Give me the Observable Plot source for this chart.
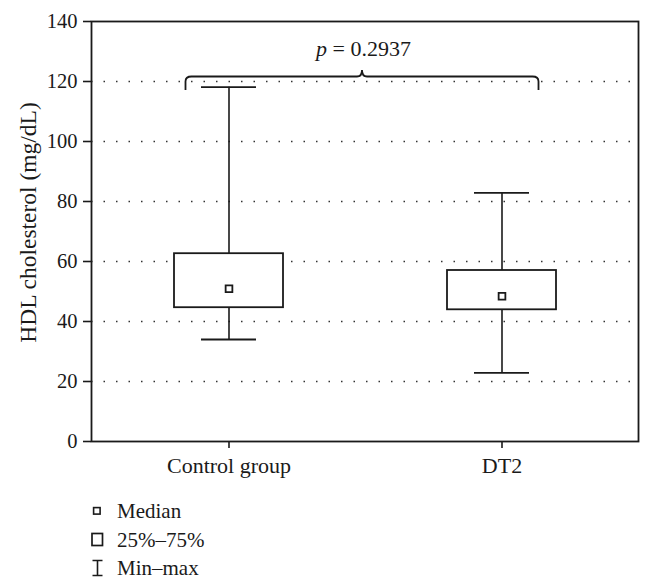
<!DOCTYPE html>
<html><head><meta charset="utf-8">
<script src="https://cdn.jsdelivr.net/npm/d3@7"></script>
<script src="https://cdn.jsdelivr.net/npm/@observablehq/plot@0.6"></script>
<style>
body{margin:0;background:#fff;font-family:"Liberation Serif",serif;color:#1a1a1a}
#chart svg{display:block}
#legend{position:relative;width:650px;height:98px}
.row{position:absolute;left:0;height:28px;width:300px;display:flex;align-items:center;font-size:21px}
.row svg{position:absolute;left:88px}
.row span{position:absolute;left:117px;line-height:28px}
</style></head><body>
<div id="chart"></div>
<div id="legend"></div>
<script>
const groups = ["Control group", "DT2"];
const mins = [34.0, 22.9];
const q1s = [44.6, 43.9];
const medians = [50.9, 48.4];
const q3s = [62.6, 57.0];
const maxs = [118.1, 82.9];
const yTicks = [0, 20, 40, 60, 80, 100, 120, 140];
const gridTicks = [20, 40, 60, 80, 100, 120];
const yLabel = "HDL cholesterol (mg/dL)";
const pSymbol = "p";
const pValueText = "\u00a0= 0.2937";
const pTextY = 131;
const braceEnd = 117, braceLine = 121.5, braceTip = 123.7;
const legendLabels = ["Median", "25%\u201375%", "Min\u2013max"];

const rows = groups.map((g, i) => ({group: g, min: mins[i], q1: q1s[i], median: medians[i], q3: q3s[i], max: maxs[i]}));
const ink = "#1a1a1a";

function brace(index, scales) {
  const {x, y} = scales;
  const bw = x.bandwidth();
  const xL = x(groups[0]) + bw / 2 - 43;
  const xR = x(groups[1]) + bw / 2 + 37;
  const xm = (xL + xR) / 2;
  const yE = y(braceEnd), yT = y(braceLine), yP = y(braceTip);
  const p = d3.path();
  p.moveTo(xL, yE); p.lineTo(xL, yT + 5);
  p.quadraticCurveTo(xL, yT, xL + 6, yT);
  p.lineTo(xm - 5, yT);
  p.quadraticCurveTo(xm, yT, xm, yP);
  p.quadraticCurveTo(xm, yT, xm + 5, yT);
  p.lineTo(xR - 6, yT);
  p.quadraticCurveTo(xR, yT, xR, yT + 5);
  p.lineTo(xR, yE);
  const el = document.createElementNS("http://www.w3.org/2000/svg", "path");
  el.setAttribute("d", p.toString());
  el.setAttribute("fill", "none");
  el.setAttribute("stroke", ink);
  el.setAttribute("stroke-width", 1.8);
  return el;
}

const chart = Plot.plot({
  width: 650,
  height: 490,
  marginLeft: 91,
  marginRight: 12,
  marginTop: 21,
  marginBottom: 49,
  style: {fontFamily: "Liberation Serif, serif", fontSize: "20px", color: ink, background: "#fff"},
  x: {type: "band", domain: groups, padding: 0, axis: null},
  y: {domain: [0, 140], axis: null},
  marks: [
    Plot.gridY(gridTicks, {stroke: "#333", strokeOpacity: 1, strokeWidth: 1.5, strokeDasharray: "1.5 11"}),
    Plot.axisY(yTicks, {tickSize: 8, tickPadding: 6, fontSize: 20.5, label: null, stroke: ink, strokeWidth: 1.6}),
    Plot.axisX(groups, {tickSize: 7, tickPadding: 9, fontSize: 22, label: null, stroke: ink, strokeWidth: 1.6}),
    Plot.ruleX(rows, {x: "group", y1: "min", y2: "max", stroke: ink, strokeWidth: 1.6}),
    Plot.tickY(rows, {x: "group", y: "min", insetLeft: 109, insetRight: 109, stroke: ink, strokeWidth: 1.8}),
    Plot.tickY(rows, {x: "group", y: "max", insetLeft: 109, insetRight: 109, stroke: ink, strokeWidth: 1.8}),
    Plot.barY(rows, {x: "group", y1: "q1", y2: "q3", insetLeft: 82, insetRight: 82, fill: "#fff", stroke: ink, strokeWidth: 1.8}),
    Plot.dot(rows, {x: "group", y: "median", symbol: "square", r: 3.8, fill: "#fff", stroke: ink, strokeWidth: 1.8}),
    Plot.frame({stroke: ink, strokeWidth: 1.8}),
    brace,
    Plot.text([pSymbol], {y: () => pTextY, text: d => d, dx: -38, textAnchor: "end", fontStyle: "italic", fontSize: 22, fill: ink}),
    Plot.text([pValueText], {y: () => pTextY, text: d => d, dx: -38, textAnchor: "start", fontSize: 22, fill: ink}),
    Plot.text([yLabel], {frameAnchor: "left", text: d => d, rotate: -90, textAnchor: "middle", lineAnchor: "middle", dx: -63, dy: -9, fontSize: 23.5, fill: ink})
  ]
});
document.getElementById("chart").appendChild(chart);

const legendSymbols = [
  '<svg width="18" height="20" viewBox="0 0 18 20"><rect x="5.6" y="6.6" width="6.5" height="6.5" fill="#fff" stroke="#1a1a1a" stroke-width="1.6"/></svg>',
  '<svg width="18" height="20" viewBox="0 0 18 20"><rect x="4" y="3.5" width="10.5" height="12" fill="#fff" stroke="#1a1a1a" stroke-width="1.7"/></svg>',
  '<svg width="18" height="20" viewBox="0 0 18 20"><path d="M4.5 2.5H14.5M9.5 2.5V17.5M4.5 17.5H14.5" fill="none" stroke="#1a1a1a" stroke-width="1.6"/></svg>'
];
const rowTops = [7, 36, 64];
const legend = document.getElementById("legend");
legendLabels.forEach((lab, i) => {
  const r = document.createElement("div");
  r.className = "row";
  r.style.top = rowTops[i] + "px";
  r.innerHTML = legendSymbols[i] + "<span></span>";
  r.querySelector("span").textContent = lab;
  legend.appendChild(r);
});
</script>
</body></html>
